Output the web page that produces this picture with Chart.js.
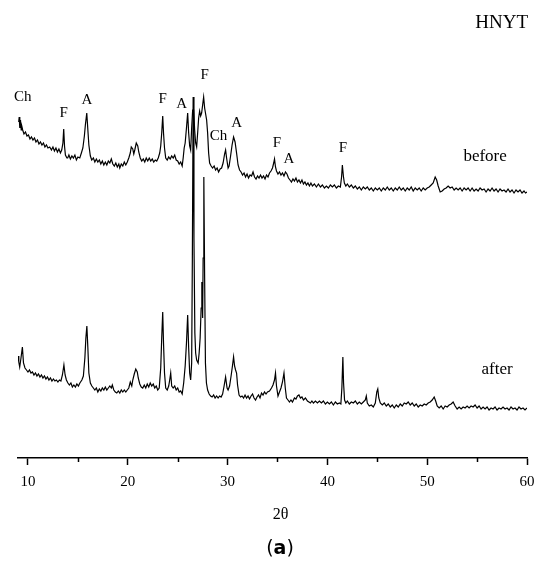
<!DOCTYPE html>
<html>
<head>
<meta charset="utf-8">
<script src="https://cdn.jsdelivr.net/npm/chart.js@4.4.1/dist/chart.umd.min.js"></script>
<style>
  html, body { margin: 0; padding: 0; background: #fff; }
  #wrap { position: relative; width: 535px; height: 565px; }
  #panel {
    position: absolute; left: 280px; top: 536px; transform: translateX(-50%);
    font: 19px "DejaVu Sans", sans-serif; color: #000;
  }
</style>
</head>
<body>
<div id="wrap">
  <canvas id="xrd" width="535" height="565"></canvas>
  <div id="panel">(<b>a</b>)</div>
</div>
<script>
// ── XRD patterns, HNYT sample ─────────────────────

// [2θ, intensity] (arbitrary units, offset traces)
const beforeScan = [
  [9.07,336],[9.12,341],[9.18,330],[9.25,338],[9.32,328],[9.4,331],[9.47,328],[9.6,324],[9.75,326],[9.9,322],
  [10.05,323],[10.2,319],[10.35,321],[10.5,318],[10.65,320],[10.8,316],[10.95,318],[11.1,314],[11.25,316],[11.4,313],
  [11.55,315],[11.7,311],[11.85,313],[12.0,310],[12.18,311],[12.35,308],[12.5,311],[12.65,307],[12.8,310],[12.95,306],
  [13.1,309],[13.25,305],[13.38,308],[13.5,315],[13.58,329],[13.66,312],[13.75,303],[13.9,300],[13.98,300],[14.1,303],
  [14.25,299],[14.4,302],[14.55,300],[14.7,303],[14.85,298],[15.0,301],[15.19,300],[15.35,305],[15.5,310],[15.65,322],
  [15.75,333],[15.89,345],[16.0,328],[16.1,313],[16.25,302],[16.39,298],[16.55,300],[16.7,296],[16.85,299],[17.0,296],
  [17.15,298],[17.3,294],[17.45,297],[17.6,293],[17.75,296],[17.9,293],[18.05,297],[18.2,295],[18.35,299],[18.5,294],
  [18.65,292],[18.8,295],[18.95,291],[19.1,294],[19.2,290],[19.35,294],[19.5,292],[19.65,296],[19.8,293],[19.95,296],
  [20.1,300],[20.25,305],[20.35,311],[20.5,309],[20.6,304],[20.7,308],[20.85,315],[21.0,312],[21.1,306],[21.25,300],
  [21.4,297],[21.55,299],[21.7,296],[21.85,300],[22.0,297],[22.15,300],[22.3,297],[22.45,299],[22.6,296],[22.75,298],
  [22.9,297],[23.05,300],[23.2,305],[23.3,312],[23.4,325],[23.5,342],[23.58,325],[23.68,310],[23.8,300],[23.95,298],
  [24.1,301],[24.25,299],[24.4,302],[24.55,300],[24.7,303],[24.85,298],[25.0,297],[25.15,294],[25.3,296],[25.45,292],
  [25.55,300],[25.65,310],[25.75,315],[25.88,330],[26.0,345],[26.1,325],[26.2,312],[26.3,308],[26.4,330],[26.5,348],
  [26.6,348],[26.7,328],[26.8,315],[26.9,311],[27.0,325],[27.1,340],[27.2,347],[27.3,342],[27.4,345],[27.5,353],
  [27.6,361],[27.7,350],[27.8,344],[27.9,338],[28.0,325],[28.1,305],[28.2,295],[28.35,292],[28.5,290],[28.65,292],
  [28.8,288],[28.95,290],[29.1,286],[29.25,289],[29.4,290],[29.55,295],[29.7,304],[29.8,308],[29.9,300],[30.05,290],
  [30.15,292],[30.3,302],[30.45,313],[30.6,321],[30.75,316],[30.9,305],[31.05,293],[31.2,288],[31.35,286],[31.5,283],
  [31.65,285],[31.8,281],[31.95,284],[32.1,280],[32.25,283],[32.4,282],[32.55,286],[32.7,281],[32.85,279],[33.0,282],
  [33.15,280],[33.3,283],[33.45,280],[33.6,282],[33.75,279],[33.9,283],[34.05,281],[34.2,285],[34.35,287],[34.5,290],
  [34.62,295],[34.7,299],[34.8,291],[34.9,287],[35.05,284],[35.2,286],[35.35,283],[35.5,285],[35.65,282],[35.8,286],
  [35.95,284],[36.1,280],[36.25,278],[36.4,276],[36.55,279],[36.7,277],[36.85,280],[37.0,276],[37.15,278],[37.3,275],
  [37.45,278],[37.6,274],[37.75,276],[37.9,273],[38.05,275],[38.2,272],[38.35,275],[38.5,272],[38.7,274],[38.9,271],
  [39.1,274],[39.3,271],[39.5,273],[39.7,270],[39.9,272],[40.1,270],[40.3,273],[40.5,271],[40.7,273],[40.9,270],
  [41.1,272],[41.3,271],[41.42,281],[41.5,293],[41.6,282],[41.7,275],[41.85,272],[42.0,274],[42.2,271],[42.4,273],
  [42.6,270],[42.8,272],[43.0,269],[43.2,271],[43.4,268],[43.6,271],[43.8,269],[44.0,271],[44.2,268],[44.4,270],
  [44.6,267],[44.8,270],[45.0,268],[45.2,270],[45.4,267],[45.6,270],[45.8,268],[46.0,271],[46.2,268],[46.4,270],
  [46.6,267],[46.8,270],[47.0,268],[47.2,271],[47.4,268],[47.6,270],[47.8,267],[48.0,270],[48.2,268],[48.4,271],
  [48.6,267],[48.8,270],[49.0,268],[49.2,270],[49.4,267],[49.6,270],[49.8,268],[50.0,270],[50.2,271],[50.4,273],
  [50.6,275],[50.8,281],[50.95,278],[51.1,272],[51.3,266],[51.5,267],[51.7,269],[51.9,270],[52.1,272],[52.3,270],
  [52.5,271],[52.7,268],[52.9,270],[53.1,268],[53.3,270],[53.5,267],[53.7,270],[53.9,268],[54.1,270],[54.3,267],
  [54.5,270],[54.7,267],[54.9,269],[55.1,267],[55.3,270],[55.5,268],[55.7,269],[55.9,266],[56.1,269],[56.3,267],
  [56.5,270],[56.7,267],[56.9,269],[57.1,266],[57.3,269],[57.5,267],[57.7,268],[57.9,266],[58.1,269],[58.3,266],
  [58.5,268],[58.7,265],[58.9,268],[59.1,266],[59.3,268],[59.5,265],[59.7,267],[59.85,265],[60.0,266]
];

const afterScan = [
  [9.0,102],[9.08,96],[9.17,91],[9.3,100],[9.44,111],[9.55,95],[9.7,90],[9.85,88],[10.0,86],[10.15,88],
  [10.3,85],[10.45,86],[10.6,83],[10.75,85],[10.9,82],[11.05,84],[11.2,81],[11.35,83],[11.5,80],[11.65,82],
  [11.8,79],[11.95,81],[12.1,78],[12.25,80],[12.4,77],[12.55,79],[12.7,77],[12.85,78],[13.0,76],[13.15,78],
  [13.3,77],[13.45,83],[13.6,93],[13.72,83],[13.85,78],[14.0,75],[14.15,73],[14.3,75],[14.45,71],[14.6,73],
  [14.75,71],[14.9,74],[15.05,72],[15.2,75],[15.4,78],[15.55,82],[15.7,100],[15.8,120],[15.9,132],[16.0,110],
  [16.1,85],[16.25,75],[16.4,72],[16.55,70],[16.7,68],[16.85,70],[17.0,66],[17.15,69],[17.3,67],[17.45,70],
  [17.6,68],[17.75,71],[17.9,68],[18.05,70],[18.2,72],[18.35,70],[18.45,73],[18.6,68],[18.75,66],[18.9,65],
  [19.05,67],[19.2,65],[19.35,68],[19.5,66],[19.65,68],[19.8,66],[19.95,68],[20.1,70],[20.25,76],[20.4,72],
  [20.5,78],[20.65,84],[20.8,89],[20.95,86],[21.05,80],[21.2,74],[21.35,71],[21.5,70],[21.65,73],[21.8,70],
  [21.95,74],[22.1,71],[22.25,75],[22.4,72],[22.55,74],[22.7,70],[22.85,72],[23.0,68],[23.15,70],[23.3,90],
  [23.4,120],[23.5,146],[23.58,115],[23.68,85],[23.8,70],[23.95,68],[24.1,72],[24.2,78],[24.3,85],[24.4,72],
  [24.55,70],[24.7,72],[24.85,68],[25.0,70],[25.15,66],[25.3,67],[25.45,64],[25.6,75],[25.75,92],[25.88,115],
  [26.0,143],[26.1,110],[26.2,85],[26.3,78],[26.4,95],[26.47,200],[26.55,361],[26.63,220],[26.72,125],[26.8,105],
  [26.9,98],[27.05,95],[27.15,105],[27.25,120],[27.35,150],[27.42,176],[27.5,140],[27.55,200],[27.62,281],[27.7,180],
  [27.78,95],[27.88,75],[28.0,68],[28.15,64],[28.3,62],[28.45,61],[28.6,63],[28.75,60],[28.9,62],[29.05,60],
  [29.2,62],[29.35,61],[29.5,64],[29.65,72],[29.8,81],[29.95,70],[30.05,68],[30.2,72],[30.35,82],[30.5,93],
  [30.6,101],[30.7,92],[30.8,88],[30.9,85],[31.0,73],[31.15,63],[31.3,61],[31.45,62],[31.6,60],[31.75,63],
  [31.9,60],[32.05,62],[32.2,59],[32.35,62],[32.5,64],[32.65,60],[32.8,58],[32.95,61],[33.1,63],[33.25,60],
  [33.4,65],[33.55,63],[33.7,66],[33.85,64],[34.0,66],[34.2,67],[34.4,70],[34.55,73],[34.7,78],[34.8,85],
  [34.9,72],[35.05,62],[35.2,66],[35.35,70],[35.5,76],[35.65,85],[35.78,70],[35.9,60],[36.05,58],[36.2,56],
  [36.35,58],[36.5,56],[36.7,60],[36.85,59],[37.0,62],[37.15,63],[37.3,60],[37.45,61],[37.6,58],[37.8,60],
  [38.0,57],[38.15,56],[38.3,55],[38.45,57],[38.6,55],[38.8,57],[39.0,55],[39.2,57],[39.4,55],[39.6,57],
  [39.8,54],[40.0,56],[40.2,54],[40.4,56],[40.6,53],[40.8,56],[41.0,54],[41.2,55],[41.35,54],[41.45,70],
  [41.55,101],[41.62,75],[41.72,58],[41.85,55],[42.0,57],[42.2,54],[42.4,56],[42.6,55],[42.8,57],[43.0,54],
  [43.2,56],[43.4,54],[43.6,56],[43.8,58],[43.9,62],[44.0,55],[44.2,52],[44.4,53],[44.6,51],[44.8,55],
  [44.95,66],[45.05,69],[45.15,60],[45.3,55],[45.5,53],[45.7,55],[45.9,52],[46.1,54],[46.3,51],[46.5,53],
  [46.7,50],[46.9,53],[47.1,51],[47.3,54],[47.5,52],[47.7,55],[47.9,54],[48.1,56],[48.3,53],[48.5,55],
  [48.7,52],[48.9,54],[49.1,51],[49.3,53],[49.5,52],[49.7,54],[49.9,53],[50.1,55],[50.3,56],[50.5,58],
  [50.7,61],[50.85,57],[51.0,52],[51.2,50],[51.4,52],[51.6,49],[51.8,52],[52.0,51],[52.2,53],[52.4,54],
  [52.6,56],[52.8,52],[53.0,49],[53.2,51],[53.4,49],[53.6,51],[53.8,50],[54.0,52],[54.2,50],[54.4,52],
  [54.6,51],[54.8,53],[55.0,50],[55.2,52],[55.4,49],[55.6,51],[55.8,49],[56.0,51],[56.2,48],[56.4,50],
  [56.6,49],[56.8,51],[57.0,48],[57.2,50],[57.4,49],[57.6,51],[57.8,49],[58.0,50],[58.2,48],[58.4,51],
  [58.6,49],[58.8,50],[59.0,48],[59.2,51],[59.4,49],[59.6,50],[59.8,48],[60.0,50]
];

// phase tags on the "before" trace
const peakTags   = ['Ch', 'F', 'A', 'F', 'A', 'F', 'Ch', 'A', 'F', 'A', 'F'];
const peakAngles = [9.47, 13.58, 15.9, 23.5, 25.4, 27.7, 29.1, 30.9, 34.95, 36.15, 41.55];
const peakLevels = [361, 345, 358, 359, 354, 383, 322, 335, 315, 299, 310];

const traceNames  = ['before', 'after'];
const traceAngles = [55.8, 57.0];
const traceLevels = [301, 88];

const majorTicks = [10, 20, 30, 40, 50, 60];
const minorTicks = [15, 25, 35, 45, 55];

const SERIF = '"Liberation Serif", "Times New Roman", serif';

const annotate = {
  id: 'annotate',
  afterDraw(chart) {
    const { ctx, chartArea, scales: { x, y } } = chart;
    ctx.save();
    ctx.fillStyle = '#000';
    ctx.textAlign = 'center';
    ctx.textBaseline = 'middle';

    ctx.font = '15px ' + SERIF;
    peakTags.forEach((t, i) => {
      ctx.fillText(t, x.getPixelForValue(peakAngles[i]), y.getPixelForValue(peakLevels[i]));
    });

    ctx.font = '17px ' + SERIF;
    traceNames.forEach((t, i) => {
      ctx.fillText(t, x.getPixelForValue(traceAngles[i]), y.getPixelForValue(traceLevels[i]));
    });

    // axis title, sits a little right of centre in the original
    ctx.font = '16px ' + SERIF;
    ctx.fillText('2θ', x.getPixelForValue(35.3), chartArea.bottom + 57);

    ctx.textAlign = 'right';
    ctx.font = '19px ' + SERIF;
    ctx.fillText('HNYT', chartArea.right + 1, 23);

    // short minor ticks between the labelled ones
    ctx.strokeStyle = '#000';
    ctx.lineWidth = 1.5;
    minorTicks.forEach(v => {
      const px = Math.round(x.getPixelForValue(v)) + 0.5;
      ctx.beginPath();
      ctx.moveTo(px, chartArea.bottom);
      ctx.lineTo(px, chartArea.bottom + 4);
      ctx.stroke();
    });
    ctx.restore();
  }
};

const toPoints = scan => scan.map(([x, y]) => ({ x, y }));

new Chart(document.getElementById('xrd'), {
  type: 'line',
  data: {
    datasets: [
      { label: 'before', data: toPoints(beforeScan) },
      { label: 'after', data: toPoints(afterScan) }
    ]
  },
  options: {
    responsive: false,
    animation: false,
    parsing: false,
    normalized: true,
    layout: { padding: { top: 8, left: 18, right: 8, bottom: 66 } },
    elements: {
      line: { borderColor: '#000', borderWidth: 1.2, tension: 0 },
      point: { radius: 0 }
    },
    plugins: {
      legend: { display: false },
      tooltip: { enabled: false }
    },
    scales: {
      x: {
        type: 'linear',
        min: 9,
        max: 60,
        afterBuildTicks: scale => {
          scale.ticks = majorTicks.map(value => ({ value }));
        },
        // let the "60" label hang past the plot edge like the original
        afterFit: scale => {
          scale.paddingLeft = 0;
          scale.paddingRight = 0;
        },
        border: { display: true, color: '#000', width: 1.5 },
        grid: { drawOnChartArea: false, drawTicks: true, tickLength: 7, tickColor: '#000', tickWidth: 1.5 },
        ticks: {
          color: '#000',
          padding: 8,
          maxRotation: 0,
          font: { family: SERIF, size: 15 }
        }
      },
      y: {
        display: false,
        min: 0,
        max: 450
      }
    }
  },
  plugins: [annotate]
});
</script>
</body>
</html>
